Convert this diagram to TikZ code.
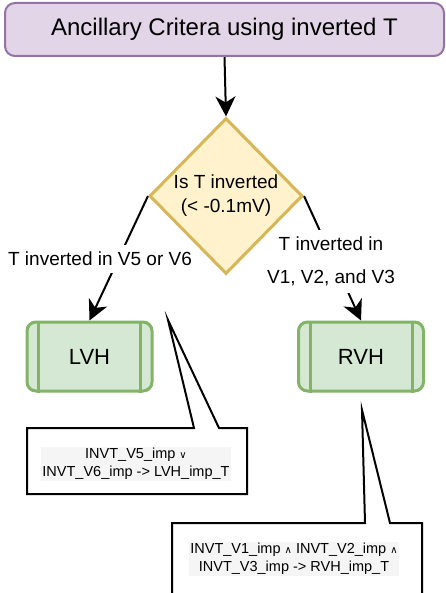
\documentclass[tikz,border=0pt]{standalone}
\usepackage{fontspec}
\setmainfont{Liberation Sans}
\newfontfamily\symfont{DejaVu Sans}
\usetikzlibrary{shapes.geometric,arrows.meta}
\pgfdeclarelayer{bglayer}
\pgfsetlayers{bglayer,main}
\definecolor{purfill}{HTML}{E1D5E7}
\definecolor{purline}{HTML}{9673A6}
\definecolor{yelfill}{HTML}{FFF2CC}
\definecolor{yelline}{HTML}{D6B656}
\definecolor{grnfill}{HTML}{D5E8D4}
\definecolor{grnline}{HTML}{82B366}
\tikzset{
  titlebox/.style={draw=purline, fill=purfill, line width=2pt, rounded corners=10pt,
    minimum width=439pt, minimum height=53pt, inner sep=0pt,
    font=\fontsize{24}{28}\selectfont},
  decision/.style={shape=diamond, draw=yelline, fill=yelfill, line width=3pt,
    minimum width=153pt, minimum height=156pt, inner sep=0pt, align=center,
    font=\fontsize{19}{24}\selectfont},
  resultbox/.style={draw=grnline, fill=grnfill, line width=3pt, rounded corners=9pt,
    minimum width=125pt, minimum height=69pt, inner sep=0pt,
    font=\fontsize{22}{26}\selectfont},
  conn/.style={line width=2pt, -{Stealth[length=20pt,width=20pt,inset=6pt]}},
  edgelabel/.style={fill=white, inner xsep=2pt, inner ysep=7pt, align=center,
    font=\fontsize{19}{33}\selectfont},
  callout/.style={draw=black, fill=white, line width=2pt, line join=miter},
  ctext/.style={fill=black!4, inner sep=1pt, align=center,
    font=\fontsize{14.5}{18}\selectfont},
}
\newcommand{\orsym}{{\symfont\fontsize{10}{10}\selectfont ∨}}
\newcommand{\andsym}{{\symfont\fontsize{10}{10}\selectfont ∧}}
\begin{document}
\begin{tikzpicture}[x=1pt,y=-1pt]
\useasboundingbox (0,0) rectangle (446,593);
\clip (0,0) rectangle (446,593);

% main nodes
\node[titlebox] (title) at (224.5,29.5) {Ancillary Critera using inverted T};
\node[decision] (dec) at (226,196) {Is T inverted\\(< -0.1mV)};
\node[resultbox] (lvh) at (89.5,356.5) {LVH};
\node[resultbox] (rvh) at (361,356.5) {RVH};
\draw[grnline, line width=3pt] ([xshift=13pt]lvh.north west) -- ([xshift=13pt]lvh.south west);
\draw[grnline, line width=3pt] ([xshift=-13pt]lvh.north east) -- ([xshift=-13pt]lvh.south east);
\draw[grnline, line width=3pt] ([xshift=13pt]rvh.north west) -- ([xshift=13pt]rvh.south west);
\draw[grnline, line width=3pt] ([xshift=-13pt]rvh.north east) -- ([xshift=-13pt]rvh.south east);

\begin{pgfonlayer}{bglayer}
\fill[white] (0,0) rectangle (446,593);
% connectors
\draw[conn] (title.south) -- (dec.north);
\draw[conn] (dec.west) -- (lvh.north);
\draw[conn] (dec.east) -- (rvh.north);
% edge labels (white background interrupts the connectors)
\node[edgelabel] (lblleft) at (100,259) {T inverted in V5 or V6};
\node[edgelabel] (lblright) at (331,261.5) {T inverted in\\V1, V2, and V3};
\end{pgfonlayer}

% callout 1
\coordinate (c1tip) at (168,320);
\coordinate (c1nw) at (27,428);
\coordinate (c1se) at (247,494);
\draw[callout] (c1nw) -- (194,428) -- (c1tip) -- (219,428) -- (c1se |- c1nw) -- (c1se) -- (c1nw |- c1se) -- cycle;
\node[ctext] (c1text) at (136,464) {INVT\_V5\_imp \orsym\\INVT\_V6\_imp -> LVH\_imp\_T};

% callout 2
\coordinate (c2tip) at (362,410);
\coordinate (c2nw) at (172,523);
\coordinate (c2se) at (422,610);
\draw[callout] (c2nw) -- (365,523) -- (c2tip) -- (390,523) -- (c2se |- c2nw) -- (c2se) -- (c2nw |- c2se) -- cycle;
\node[ctext] (c2text) at (294,559) {INVT\_V1\_imp \andsym{} INVT\_V2\_imp \andsym\\INVT\_V3\_imp -> RVH\_imp\_T};
\end{tikzpicture}
\end{document}
